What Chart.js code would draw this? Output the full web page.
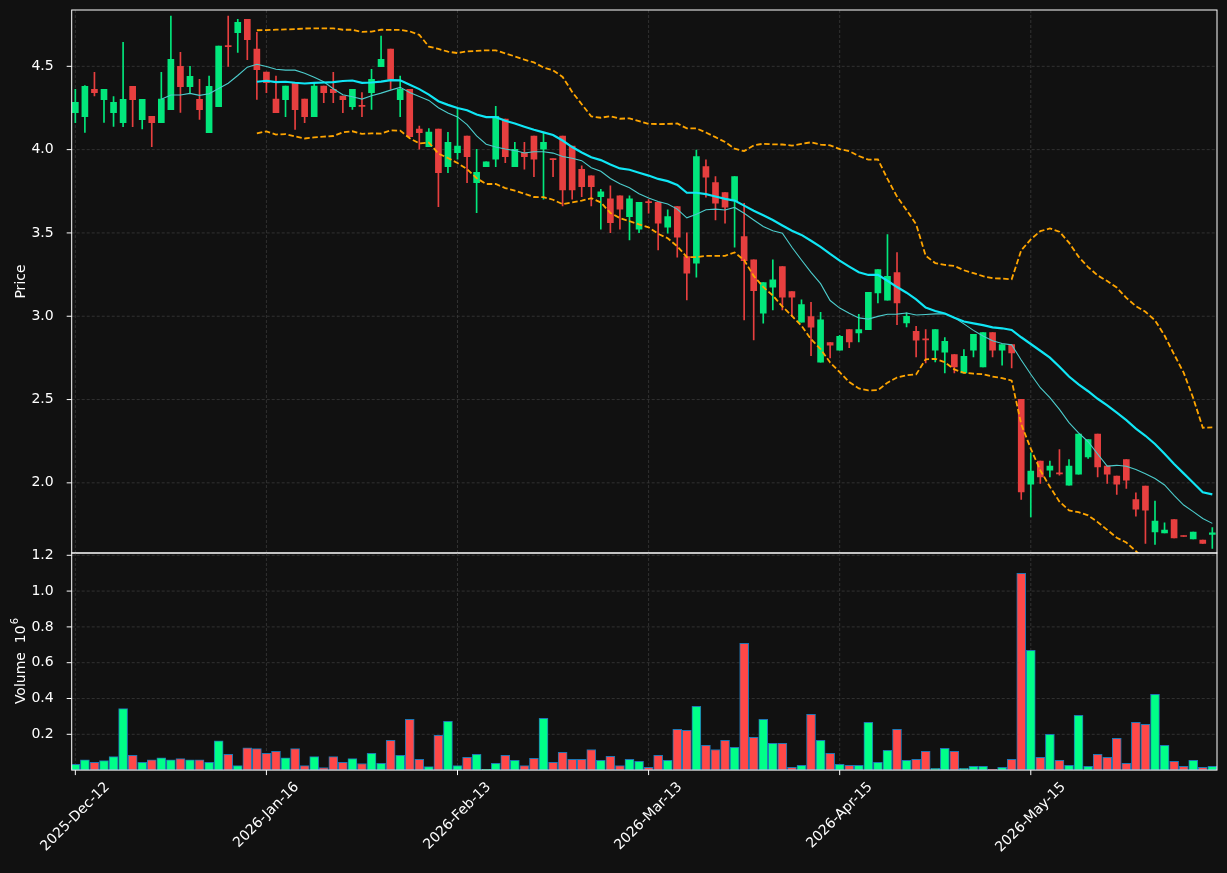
<!DOCTYPE html>
<html><head><meta charset="utf-8">
<script src="https://cdn.jsdelivr.net/npm/chart.js@4.4.1/dist/chart.umd.min.js"></script>
<style>
html,body{margin:0;padding:0;background:#111111;width:1227px;height:873px;overflow:hidden}
#c1{position:absolute;left:0;top:0;width:1227px;height:555px}
#c2{position:absolute;left:0;top:540px;width:1227px;height:333px}
</style></head><body>
<canvas id="c1" width="1227" height="555"></canvas>
<canvas id="c2" width="1227" height="333"></canvas>
<script>
// ---------- DATA ----------
const xTickIndex  = [0, 20, 40, 60, 80, 100];
const xTickLabels = ['2025-Dec-12', '2026-Jan-16', '2026-Feb-13', '2026-Mar-13', '2026-Apr-15', '2026-May-15'];
const priceTicks  = [2.0, 2.5, 3.0, 3.5, 4.0, 4.5];
const volumeTicks = [0.2, 0.4, 0.6, 0.8, 1.0, 1.2];

const openP = [4.222,4.198,4.362,4.300,4.222,4.162,4.380,4.180,4.200,4.162,
  4.240,4.500,4.378,4.302,4.102,4.258,4.624,4.702,4.782,4.604,
  4.466,4.304,4.300,4.398,4.304,4.198,4.382,4.362,4.322,4.258,
  4.264,4.342,4.498,4.604,4.300,4.362,4.124,4.018,4.124,3.898,
  3.982,4.082,3.802,3.898,3.942,4.184,3.898,3.982,4.082,4.002,
  3.944,4.082,4.022,3.882,3.842,3.718,3.704,3.722,3.598,3.522,
  3.686,3.684,3.534,3.658,3.358,3.318,3.898,3.802,3.742,3.694,
  3.478,3.338,3.018,3.174,3.298,3.148,2.964,2.998,2.724,2.842,
  2.796,2.920,2.900,2.920,3.140,3.096,3.262,2.960,2.910,2.862,
  2.796,2.784,2.770,2.660,2.796,2.696,2.902,2.796,2.830,2.502,
  1.992,2.130,2.076,2.058,1.986,2.052,2.156,2.292,2.100,2.040,
  2.140,1.900,1.980,1.706,1.700,1.780,1.682,1.664,1.656,1.690];
const highP = [4.362,4.385,4.464,4.362,4.318,4.644,4.380,4.302,4.200,4.464,
  4.802,4.584,4.500,4.422,4.442,4.622,4.802,4.782,4.782,4.704,
  4.466,4.442,4.382,4.398,4.304,4.402,4.382,4.464,4.322,4.362,
  4.342,4.482,4.682,4.604,4.442,4.362,4.142,4.126,4.124,4.104,
  4.242,4.082,4.002,3.926,4.260,4.184,4.044,4.044,4.082,4.102,
  3.944,4.082,4.022,3.902,3.842,3.762,3.782,3.722,3.722,3.684,
  3.700,3.684,3.638,3.658,3.500,3.998,3.938,3.838,3.742,3.838,
  3.678,3.338,3.202,3.338,3.298,3.148,3.098,3.084,3.024,2.842,
  2.886,2.920,3.012,3.144,3.280,3.490,3.382,3.020,2.940,2.920,
  2.920,2.872,2.770,2.800,2.892,2.902,2.902,2.830,2.830,2.502,
  2.180,2.130,2.130,2.200,2.140,2.292,2.260,2.292,2.100,2.040,
  2.140,1.940,1.980,1.890,1.760,1.780,1.682,1.704,1.656,1.732];
const lowP = [4.162,4.104,4.322,4.164,4.140,4.138,4.138,4.124,4.018,4.162,
  4.240,4.224,4.342,4.182,4.102,4.258,4.500,4.584,4.540,4.302,
  4.342,4.222,4.198,4.122,4.162,4.198,4.282,4.282,4.222,4.242,
  4.198,4.242,4.498,4.362,4.198,4.078,4.002,4.018,3.658,3.862,
  3.942,3.802,3.622,3.898,3.898,3.922,3.898,3.882,3.838,3.702,
  3.838,3.662,3.702,3.718,3.662,3.522,3.502,3.522,3.458,3.502,
  3.618,3.398,3.498,3.354,3.098,3.234,3.714,3.578,3.558,3.414,
  2.978,2.858,2.958,3.038,3.038,2.998,2.964,2.764,2.724,2.750,
  2.796,2.812,2.846,2.920,3.080,3.096,2.950,2.936,2.756,2.720,
  2.726,2.660,2.660,2.660,2.756,2.696,2.756,2.706,2.690,1.900,
  1.796,1.996,2.036,2.046,1.986,2.052,2.146,2.036,1.996,1.930,
  1.966,1.800,1.636,1.630,1.700,1.670,1.678,1.664,1.636,1.606];
const closeP = [4.284,4.380,4.342,4.362,4.284,4.302,4.300,4.302,4.162,4.304,
  4.542,4.378,4.440,4.240,4.380,4.622,4.618,4.764,4.660,4.480,
  4.402,4.222,4.382,4.240,4.198,4.382,4.342,4.342,4.300,4.362,
  4.260,4.422,4.542,4.422,4.362,4.078,4.102,4.106,3.862,4.044,
  4.022,3.958,3.864,3.926,4.200,3.958,4.002,3.958,3.942,4.044,
  3.940,3.758,3.758,3.778,3.778,3.746,3.562,3.642,3.704,3.684,
  3.682,3.558,3.598,3.474,3.258,3.958,3.834,3.678,3.654,3.838,
  3.334,3.154,3.202,3.218,3.114,3.114,3.070,2.934,2.978,2.826,
  2.880,2.846,2.920,3.144,3.280,3.240,3.080,3.000,2.856,2.858,
  2.920,2.850,2.696,2.760,2.892,2.902,2.796,2.830,2.780,1.946,
  2.070,2.036,2.100,2.054,2.100,2.292,2.260,2.096,2.052,1.992,
  2.016,1.842,1.836,1.770,1.716,1.670,1.678,1.704,1.636,1.700];
// volume in units of 10^6
const volume = [0.032,0.058,0.043,0.053,0.075,0.343,0.082,0.043,0.058,0.069,
  0.058,0.064,0.058,0.058,0.043,0.164,0.088,0.025,0.125,0.120,
  0.094,0.105,0.069,0.120,0.025,0.075,0.014,0.075,0.043,0.064,
  0.037,0.094,0.038,0.166,0.083,0.284,0.060,0.019,0.194,0.272,
  0.025,0.072,0.088,0.004,0.038,0.083,0.055,0.025,0.066,0.289,
  0.043,0.099,0.060,0.060,0.115,0.055,0.077,0.025,0.060,0.049,
  0.015,0.083,0.055,0.228,0.222,0.356,0.138,0.115,0.166,0.127,
  0.708,0.183,0.284,0.149,0.149,0.015,0.027,0.311,0.166,0.094,
  0.032,0.027,0.027,0.267,0.043,0.110,0.228,0.055,0.060,0.105,
  0.010,0.121,0.105,0.010,0.021,0.021,0.004,0.015,0.060,1.099,
  0.669,0.072,0.200,0.055,0.027,0.306,0.021,0.088,0.072,0.177,
  0.038,0.267,0.255,0.423,0.138,0.049,0.021,0.055,0.015,0.021];

// ---------- DERIVED (indicators from closes) ----------
const idx = closeP.map((_, i) => i);
const isUp = idx.map(i => closeP[i] >= openP[i]);
function sma(arr, n) {
  return arr.map((_, i) => i < n - 1 ? null : arr.slice(i - n + 1, i + 1).reduce((a, b) => a + b, 0) / n);
}
function stdev(arr, n) {
  return arr.map((_, i) => {
    if (i < n - 1) return null;
    const w = arr.slice(i - n + 1, i + 1); const m = w.reduce((a, b) => a + b, 0) / n;
    return Math.sqrt(w.reduce((a, b) => a + (b - m) * (b - m), 0) / n);
  });
}
const ma10 = sma(closeP, 10), ma20 = sma(closeP, 20), sd20 = stdev(closeP, 20);
const bbUp = ma20.map((m, i) => m === null ? null : m + 2 * sd20[i]);
const bbLo = ma20.map((m, i) => m === null ? null : m - 2 * sd20[i]);
const pts = arr => idx.filter(i => arr[i] !== null).map(i => ({x: i, y: arr[i]}));

// ---------- STYLE ----------
const BG = '#111111', GRID = '#3a3a3a', FG = '#ffffff';
const UP_C = 'rgb(2,231,124)', DN_C = 'rgb(231,63,63)';
const UP_V = '#00ff88', DN_V = '#ff4848';
const FONT = {family: 'DejaVu Sans', size: 14};
const X_MIN = -0.38, X_MAX = 119.49;

const framePlugin = {
  id: 'frame',
  beforeDatasetsDraw(chart, args, o) {
    const {ctx, chartArea: a, scales} = chart;
    ctx.save();
    ctx.strokeStyle = GRID; ctx.lineWidth = 0.8; ctx.setLineDash([3, 2]);
    for (const v of o.yTicks) {
      const y = scales.y.getPixelForValue(v);
      ctx.beginPath(); ctx.moveTo(a.left, y); ctx.lineTo(a.right, y); ctx.stroke();
    }
    for (const v of xTickIndex) {
      const x = scales.x.getPixelForValue(v);
      ctx.beginPath(); ctx.moveTo(x, a.top); ctx.lineTo(x, a.bottom); ctx.stroke();
    }
    ctx.restore();
  },
  afterDraw(chart, args, o) {
    const {ctx, chartArea: a, scales} = chart;
    ctx.save();
    ctx.strokeStyle = FG; ctx.lineWidth = 1; ctx.setLineDash([]);
    ctx.strokeRect(a.left, a.top, a.right - a.left, a.bottom - a.top);
    for (const v of o.yTicks) {
      const y = scales.y.getPixelForValue(v);
      ctx.beginPath(); ctx.moveTo(a.left - 5, y); ctx.lineTo(a.left, y); ctx.stroke();
    }
    ctx.fillStyle = FG;
    if (o.xLabels) {
      ctx.font = '14px "DejaVu Sans"';
      xTickIndex.forEach((v, k) => {
        const x = scales.x.getPixelForValue(v);
        ctx.beginPath(); ctx.moveTo(x, a.bottom); ctx.lineTo(x, a.bottom + 5); ctx.stroke();
        const t = xTickLabels[k];
        const w = ctx.measureText(t).width;
        const side = (w + 16) * Math.SQRT1_2;
        ctx.save();
        ctx.translate(x, a.bottom + 9 + side / 2);
        ctx.rotate(-Math.PI / 4);
        ctx.textAlign = 'center'; ctx.textBaseline = 'middle';
        ctx.fillText(t, 0, 0);
        ctx.restore();
      });
    }
    // y title
    ctx.save();
    ctx.translate(21, (a.top + a.bottom) / 2);
    ctx.rotate(-Math.PI / 2);
    ctx.textBaseline = 'middle';
    ctx.font = '14px "DejaVu Sans"';
    if (o.sup) {
      const w1 = ctx.measureText(o.title).width;
      ctx.font = '10px "DejaVu Sans"';
      const w2 = ctx.measureText(o.sup).width;
      const x0 = -(w1 + w2) / 2;
      ctx.font = '14px "DejaVu Sans"'; ctx.textAlign = 'left';
      ctx.fillText(o.title, x0, 0);
      ctx.font = '10px "DejaVu Sans"';
      ctx.fillText(o.sup, x0 + w1 + 1, -6);
    } else {
      ctx.textAlign = 'center';
      ctx.fillText(o.title, 0, 0);
    }
    ctx.restore();
    ctx.restore();
  }
};

const common = {
  responsive: false, animation: false, devicePixelRatio: 1, events: [],
};

const xScale = {
  type: 'linear', min: X_MIN, max: X_MAX, offset: false, display: false,
  grid: {display: false, offset: false}
};
const fitY = s => { s.width = 71.7; s.paddingTop = 0; s.paddingBottom = 0; s.paddingLeft = 0; s.paddingRight = 0; };

// ---------- PRICE CHART ----------
new Chart(document.getElementById('c1'), {
  type: 'bar',
  data: {
    datasets: [
      {type: 'bar', label: 'wick', data: idx.map(i => ({x: i, y: [lowP[i], highP[i]]})),
       backgroundColor: idx.map(i => isUp[i] ? UP_C : DN_C), barThickness: 1, grouped: false, order: 5},
      {type: 'bar', label: 'body', data: idx.map(i => ({x: i, y: [openP[i], closeP[i]]})),
       backgroundColor: idx.map(i => isUp[i] ? UP_C : DN_C), barThickness: 6, minBarLength: 1, grouped: false, order: 4},
      {type: 'line', label: 'MA10', data: pts(ma10), borderColor: '#4ccccc', borderWidth: 1.1, pointRadius: 0, tension: 0, order: 3},
      {type: 'line', label: 'MA20', data: pts(ma20), borderColor: '#10e6f5', borderWidth: 2.2, pointRadius: 0, tension: 0, order: 2},
      {type: 'line', label: 'BB upper', data: pts(bbUp), borderColor: '#ffa500', borderWidth: 1.8, borderDash: [5.5, 2.6], pointRadius: 0, tension: 0, order: 1},
      {type: 'line', label: 'BB lower', data: pts(bbLo), borderColor: '#ffa500', borderWidth: 1.8, borderDash: [5.5, 2.6], pointRadius: 0, tension: 0, order: 1}
    ]
  },
  options: Object.assign({}, common, {
    layout: {padding: {left: 0, right: 10, top: 10, bottom: 2}},
    scales: {
      x: xScale,
      y: {
        type: 'linear', min: 1.579, max: 4.838,
        afterBuildTicks: s => { s.ticks = priceTicks.map(v => ({value: v})); },
        afterFit: fitY,
        ticks: {color: FG, font: FONT, padding: 10, callback: v => Number(v).toFixed(1)},
        grid: {display: false}, border: {display: false}
      }
    },
    plugins: {legend: {display: false}, tooltip: {enabled: false},
      frame: {yTicks: priceTicks, title: 'Price', xLabels: false}}
  }),
  plugins: [framePlugin]
});

// ---------- VOLUME CHART ----------
new Chart(document.getElementById('c2'), {
  type: 'bar',
  data: {
    datasets: [
      {type: 'bar', label: 'Volume', data: idx.map(i => ({x: i, y: volume[i]})),
       backgroundColor: idx.map(i => isUp[i] ? UP_V : DN_V), borderColor: '#1f77b4', borderWidth: 1,
       borderSkipped: false, barThickness: 9, grouped: false}
    ]
  },
  options: Object.assign({}, common, {
    layout: {padding: {left: 0, right: 10, top: 13, bottom: 102.9}},
    scales: {
      x: xScale,
      y: {
        type: 'linear', min: 0, max: 1.2128,
        afterBuildTicks: s => { s.ticks = volumeTicks.map(v => ({value: v})); },
        afterFit: fitY,
        ticks: {color: FG, font: FONT, padding: 10, callback: v => Number(v).toFixed(1)},
        grid: {display: false}, border: {display: false}
      }
    },
    plugins: {legend: {display: false}, tooltip: {enabled: false},
      frame: {yTicks: volumeTicks, title: 'Volume  10', sup: '6', xLabels: true}}
  }),
  plugins: [framePlugin]
});
</script>
</body></html>
